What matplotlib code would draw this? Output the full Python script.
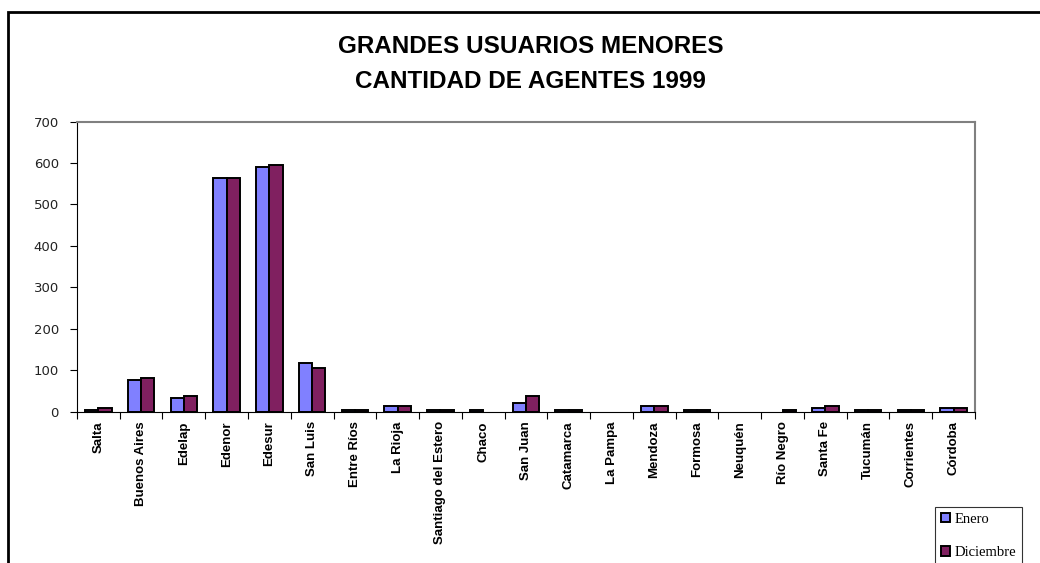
import matplotlib.pyplot as plt
import numpy as np
from matplotlib.patches import Rectangle

provincias = ['Salta', 'Buenos Aires', 'Edelap', 'Edenor', 'Edesur', 'San Luis',
              'Entre Ríos', 'La Rioja', 'Santiago del Estero', 'Chaco', 'San Juan',
              'Catamarca', 'La Pampa', 'Mendoza', 'Formosa', 'Neuquén', 'Río Negro',
              'Santa Fe', 'Tucumán', 'Corrientes', 'Córdoba']
enero = [4, 76, 33, 565, 590, 118, 3, 13, 3, 3, 20, 3, 0, 13, 3, 0, 0, 9, 3, 3, 9]
diciembre = [9, 80, 38, 565, 595, 105, 3, 13, 3, 0, 38, 3, 0, 13, 3, 0, 3, 14, 3, 3, 9]

fig = plt.figure(figsize=(10.4, 5.63), dpi=100)
ax = fig.add_axes([0.074, 0.269, 0.8635, 0.515])

x = np.arange(len(provincias))
w = 0.31
# zero values are not drawn at all in the original
ene = np.where(np.array(enero) == 0, np.nan, enero)
dic = np.where(np.array(diciembre) == 0, np.nan, diciembre)
ax.bar(x - w / 2, ene, width=w, color='#8080ff', edgecolor='black', linewidth=1.4, label='Enero')
ax.bar(x + w / 2, dic, width=w, color='#802060', edgecolor='black', linewidth=1.4, label='Diciembre')

ax.set_xlim(-0.5, len(provincias) - 0.5)
ax.set_ylim(0, 700)
ax.set_yticks(range(0, 701, 100))
ax.tick_params(axis='y', labelsize=9.5, length=5, width=0.8, pad=8, labelcolor='#222222')

# ticks on category boundaries, labels at centers
ax.set_xticks(np.arange(-0.5, len(provincias), 1))
ax.set_xticklabels([])
ax.tick_params(axis='x', which='major', length=5, width=0.8)
ax.set_xticks(x, minor=True)
ax.set_xticklabels(provincias, minor=True, rotation=90, fontsize=9.5,
                   fontweight='bold', family='Liberation Sans')
ax.tick_params(axis='x', which='minor', length=0, pad=7)

ax.spines['top'].set_color('#808080')
ax.spines['right'].set_color('#808080')
ax.spines['top'].set_linewidth(1.5)
ax.spines['right'].set_linewidth(1.5)

fig.text(0.51, 0.918, 'GRANDES USUARIOS MENORES', ha='center', va='center',
         fontsize=17.5, fontweight='bold', family='Liberation Sans')
fig.text(0.51, 0.856, 'CANTIDAD DE AGENTES 1999', ha='center', va='center',
         fontsize=17.5, fontweight='bold', family='Liberation Sans')

# outer chart frame
fig.patches.append(Rectangle((8 / 1040, -0.1), 1.2, 0.1 + 1 - 12 / 563, transform=fig.transFigure,
                             fill=False, edgecolor='black', linewidth=2))

leg = fig.legend(loc='upper left', bbox_to_anchor=(935 / 1040, 1 - 507 / 563),
                 prop={'family': 'Liberation Serif', 'size': 10.5}, frameon=True,
                 fancybox=False, edgecolor='black', handlelength=0.6, handleheight=0.6,
                 handletextpad=0.35, borderpad=0.4, labelspacing=1.4, borderaxespad=0)
leg.get_frame().set_linewidth(0.8)

fig.savefig('out.png', dpi=100)
